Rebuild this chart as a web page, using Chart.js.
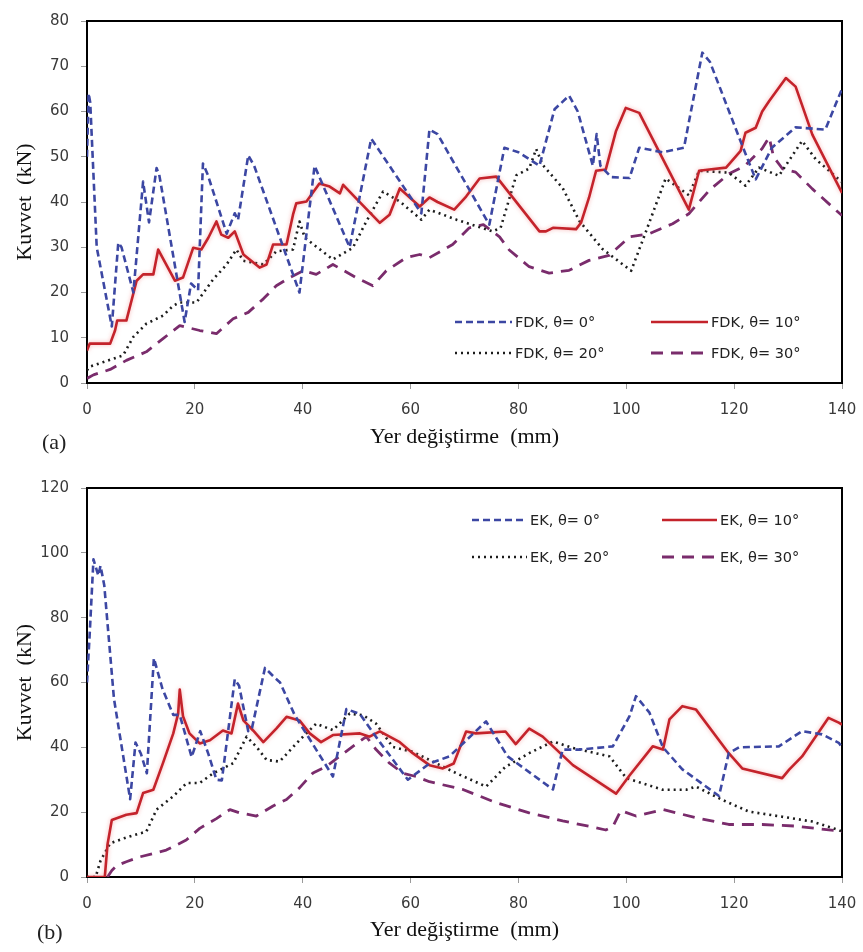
<!DOCTYPE html>
<html lang="tr">
<head>
<meta charset="utf-8">
<title>Kuvvet – Yer değiştirme</title>
<script src="https://cdn.jsdelivr.net/npm/chart.js@4.4.1/dist/chart.umd.min.js"></script>
<style>
  html, body { margin: 0; padding: 0; background: #ffffff; }
  body { width: 863px; height: 952px; position: relative; overflow: hidden; }
  .panel { position: absolute; left: 0; }
  .tag { position: absolute; font-family: "Liberation Serif", "Times New Roman", serif; font-size: 22px; color: #222; line-height: 1; }
</style>
</head>
<body>
<div class="panel" style="top:0px;"><canvas id="chartA" width="863" height="450"></canvas></div>
<div class="panel" style="top:460px;"><canvas id="chartB" width="863" height="483"></canvas></div>
<div class="tag" style="left:42px; top:431px;">(a)</div>
<div class="tag" style="left:37px; top:921px;">(b)</div>

<script>
// ---- Axis ticks ----
const xTicks = [0, 20, 40, 60, 80, 100, 120, 140];
const yTicksA = [0, 10, 20, 30, 40, 50, 60, 70, 80];
const yTicksB = [0, 20, 40, 60, 80, 100, 120];

// ---- Panel (a): FDK ----
const fdk0X = [0, 0.3, 0.6, 1.8, 4.6, 5.8, 6.4, 8.6, 10.4, 11.5, 12.9, 13.4, 18.1, 19.3, 20.6, 21.5, 22.4, 25.9, 27.4, 28.0, 29.9, 31.0, 39.4, 42.2, 48.7, 52.7, 62.0, 63.5, 65.0, 74.6, 77.4, 80.0, 83.9, 86.7, 89.4, 91.0, 93.8, 94.5, 95.2, 97.2, 100.6, 102.4, 106.7, 110.7, 111.5, 114.1, 115.5, 121.5, 124.0, 127.0, 131.4, 136.9, 140];
const fdk0Y = [50, 64, 62, 30, 12.5, 31, 30, 20, 44.5, 35.5, 47.5, 46, 13.5, 22, 20.5, 48.5, 46, 33, 37.5, 36, 50.3, 48, 20, 48, 30, 54, 37.5, 56, 55, 35, 52, 51, 48, 60.5, 63.5, 60, 48, 55, 48, 45.5, 45.3, 52, 51, 52, 57, 73, 71, 52.5, 45, 52, 56.5, 56, 65];

const fdk10X = [0, 0.5, 4.3, 5.2, 5.6, 7.3, 9.2, 10.4, 12.3, 13.2, 16.3, 17.8, 19.7, 21.2, 22.5, 24.0, 24.9, 26.2, 27.4, 29.0, 32.0, 33.3, 34.5, 37.0, 38.2, 38.8, 40.7, 43.1, 45.0, 46.9, 47.5, 49.9, 54.3, 56.1, 58.0, 61.7, 63.5, 65.0, 68.1, 70.3, 72.8, 75.9, 83.9, 85.1, 86.4, 90.7, 91.6, 93.1, 94.4, 96.2, 98.1, 99.9, 102.4, 111.6, 113.5, 115.4, 118.5, 121.2, 122.1, 124.0, 125.2, 126.5, 129.6, 131.4, 134.5, 140];
const fdk10Y = [7.2, 8.7, 8.7, 11.6, 13.8, 13.8, 22.6, 24, 24, 29.5, 22.6, 23.3, 29.9, 29.5, 32.1, 35.7, 32.8, 32.1, 33.5, 28.4, 25.5, 26.2, 30.6, 30.6, 37.2, 39.7, 40.1, 44.1, 43.4, 41.9, 43.8, 40.8, 35.4, 37.2, 43, 39, 41, 40, 38.3, 41.2, 45.2, 45.6, 33.5, 33.5, 34.3, 34, 35.4, 41, 46.9, 47.2, 55.7, 60.8, 59.7, 38.3, 46.9, 47.2, 47.6, 51.3, 55.3, 56.4, 60, 62.3, 67.4, 65.5, 54.9, 42];

const fdk20X = [0, 0.5, 6.7, 8.6, 11.0, 14.1, 16.0, 17.2, 20.3, 23.4, 25.9, 27.7, 29.0, 32.7, 35.1, 38.2, 39.4, 40.4, 45.6, 49.3, 51.8, 54.9, 58.0, 62.0, 63.5, 68.5, 75.2, 76.7, 79.6, 82.0, 83.3, 84.5, 88.2, 91.3, 95.6, 100.9, 103.0, 107.3, 111.6, 113.5, 119.0, 122.1, 124.6, 128.3, 132.6, 135.1, 140];
const fdk20Y = [2.8, 3.6, 6.1, 10.2, 13.1, 14.9, 17.1, 17.8, 17.8, 22.9, 26.2, 29.5, 27, 26.2, 29.1, 29.5, 35.7, 32.1, 27.3, 29.9, 35.7, 42.3, 40.1, 36.1, 38.3, 36.1, 33.5, 34.3, 45.9, 47.4, 51.7, 48.2, 43.1, 35.8, 29.6, 24.8, 31.4, 45.2, 41.5, 46.9, 46.5, 43.6, 47.6, 45.8, 53.5, 49.5, 44.4];

const fdk30X = [0, 1.2, 4.3, 7.3, 11.0, 14.1, 17.2, 20.9, 24.0, 27.1, 29.9, 32.7, 35.1, 37.6, 40.1, 42.5, 45.6, 49.9, 53.0, 55.5, 59.2, 61.7, 63.5, 67.8, 70.9, 73.5, 76.5, 78.3, 82.0, 85.7, 89.4, 93.1, 96.8, 100.6, 104.3, 108.6, 111.6, 115.4, 119.0, 122.0, 125.2, 126.5, 127.3, 129.0, 131.4, 134.5, 140];
const fdk30Y = [1, 1.8, 3, 5, 6.9, 9.8, 12.7, 11.6, 10.9, 14.2, 15.6, 18.6, 21.5, 23.3, 24.8, 24, 26.2, 23.3, 21.5, 24.8, 27.7, 28.4, 27.7, 30.6, 34.3, 35, 32.3, 29.4, 25.7, 24.3, 24.9, 27.1, 28.2, 32.3, 33, 35.2, 37.4, 42.6, 46.2, 48, 51.8, 54.3, 50, 47.3, 46.6, 42.9, 37];

// ---- Panel (b): EK ----
const ek0X = [0, 0.5, 1.2, 2.1, 2.5, 3.2, 5.0, 8.0, 9.0, 10.0, 11.1, 12.4, 14.0, 16.0, 17.2, 19.4, 21.0, 22.5, 24.0, 25.0, 27.4, 28.2, 29.9, 30.6, 33.0, 34.8, 35.8, 38.5, 45.6, 48.1, 50.6, 54.3, 59.5, 63.5, 67.2, 74.0, 78.0, 86.4, 88.2, 91.3, 97.5, 100.6, 101.8, 104.3, 106.8, 110.4, 117.2, 119.0, 120.9, 128.3, 132.6, 136.3, 139.4, 140];
const ek0Y = [60, 75, 98, 93, 96, 90, 55, 24, 41.5, 38, 32, 67.5, 58, 50, 50, 37, 45, 38, 30, 29.8, 61, 59, 45, 46, 64.5, 61.5, 60, 50, 31, 51.8, 50.3, 41.6, 30, 35, 37.2, 48, 37.2, 27, 39.3, 39.3, 40.3, 49.6, 55.8, 50.7, 40, 33.2, 25, 38.2, 40, 40.3, 45, 44, 41.4, 40];

const ek10X = [0, 3.3, 3.8, 4.6, 7.3, 9.2, 10.4, 12.3, 14.1, 16.0, 16.9, 17.2, 17.8, 19.0, 20.9, 22.8, 25.2, 26.8, 28.0, 29.0, 30.8, 32.7, 35.1, 37.0, 39.4, 41.3, 43.4, 45.6, 50.6, 52.4, 54.3, 58.0, 60.4, 63.5, 66.0, 68.0, 70.3, 72.1, 77.6, 79.5, 82.0, 84.5, 90.1, 98.1, 100.6, 104.9, 106.8, 108.0, 110.4, 112.9, 119.0, 121.5, 128.9, 130.2, 132.6, 137.5, 139.4, 140];
const ek10Y = [0, 0, 10, 17.6, 19.2, 19.7, 25.9, 26.9, 35.2, 44.3, 50.4, 57.8, 49.6, 44.3, 41.2, 42.2, 45.2, 44.3, 53.5, 48.3, 45.2, 41.6, 45.8, 49.4, 48.3, 44.3, 41.6, 43.8, 44.3, 43.3, 44.9, 41.6, 38.2, 34.5, 33.5, 35, 44.9, 44.3, 44.9, 41, 45.8, 43.3, 34.5, 25.7, 31.3, 40.3, 39.3, 48.6, 52.7, 51.7, 38.2, 33.5, 30.5, 33.1, 37.2, 49.1, 47.6, 47];

const ek20X = [0, 1.6, 2.5, 3.5, 4.3, 7.3, 11.0, 12.9, 16.0, 18.5, 20.9, 23.4, 27.1, 29.6, 31.5, 33.3, 35.7, 39.4, 42.5, 45.6, 48.7, 51.2, 53.6, 56.7, 60.4, 63.5, 68.5, 74.0, 77.6, 82.0, 86.4, 90.1, 96.9, 100.0, 106.8, 111.1, 112.9, 117.8, 122.7, 128.9, 134.5, 139.4, 140];
const ek20Y = [0, 0, 5, 8, 10.4, 12.2, 14, 20.8, 24.9, 29, 29, 32, 35.1, 43.3, 40, 36.1, 35.6, 42.2, 47.3, 45.3, 50.4, 49.9, 47.3, 40.1, 38.6, 36.1, 32, 27.9, 34, 38.2, 41.8, 39.8, 37.2, 30.5, 26.9, 26.9, 27.9, 23.8, 20.2, 18.6, 17.1, 14.5, 14];

const ek30X = [3.8, 4.6, 5.5, 7.3, 9.8, 14.7, 18.4, 20.9, 24.0, 26.5, 28.3, 31.4, 34.5, 37.0, 39.4, 41.9, 44.4, 46.8, 49.3, 51.8, 53.6, 56.1, 58.6, 61.0, 63.5, 69.7, 75.9, 82.0, 88.2, 94.4, 96.2, 97.5, 99.0, 101.8, 106.8, 112.9, 119.0, 125.2, 131.4, 139.4, 140];
const ek30Y = [0, 2, 3.5, 4.7, 6.2, 8.3, 11.4, 15, 18, 20.8, 19.8, 18.8, 21.9, 23.9, 27.5, 32.1, 34.1, 37.2, 40.3, 43.3, 39.3, 35.1, 32, 31, 29.4, 27, 22.9, 19.8, 17.3, 15.2, 14.5, 15.5, 20.5, 18.8, 20.8, 18.3, 16.2, 16.2, 15.7, 14.2, 14];

// ---- Series labels ----
const labelsA = ['FDK, θ= 0°', 'FDK, θ= 10°', 'FDK, θ= 20°', 'FDK, θ= 30°'];
const labelsB = ['EK, θ= 0°', 'EK, θ= 10°', 'EK, θ= 20°', 'EK, θ= 30°'];

// ---- Styles ----
const seriesStyle = [
  { borderColor: '#3c47a3', borderWidth: 2.6, borderDash: [7, 4] },
  { borderColor: '#c4232b', borderWidth: 2.6, borderDash: [] },
  { borderColor: '#1c1c1c', borderWidth: 2.6, borderDash: [2, 4] },
  { borderColor: '#7a2c6c', borderWidth: 2.8, borderDash: [12, 8] }
];

const zip = (xs, ys) => xs.map((x, i) => ({ x: x, y: ys[i] }));

function makeDatasets(labels, pairs) {
  return pairs.map((p, i) => Object.assign({
    label: labels[i],
    data: zip(p[0], p[1]),
    pointRadius: 0,
    tension: 0,
    fill: false,
    borderCapStyle: 'butt',
    borderJoinStyle: 'round'
  }, seriesStyle[i]));
}

// Black frame around the plotting area
const framePlugin = {
  id: 'frame',
  beforeDatasetsDraw(chart) {
    const { ctx, chartArea: a } = chart;
    ctx.save();
    ctx.strokeStyle = '#000';
    ctx.lineWidth = 2;
    ctx.strokeRect(a.left, a.top, a.right - a.left, a.bottom - a.top);
    ctx.restore();
  }
};

// Soft pink halo around the solid red curve
const haloPlugin = {
  id: 'halo',
  beforeDatasetDraw(chart, args) {
    if (args.index !== 1) return;
    chart.ctx.save();
    chart.ctx.shadowColor = 'rgba(240,120,120,0.55)';
    chart.ctx.shadowBlur = 4;
  },
  afterDatasetDraw(chart, args) {
    if (args.index !== 1) return;
    chart.ctx.restore();
  }
};

// Two-column legend drawn inside the plot
const legendPlugin = {
  id: 'inLegend',
  afterDraw(chart, args, opts) {
    const { ctx } = chart;
    ctx.save();
    ctx.font = '14.5px "DejaVu Sans", Verdana, sans-serif';
    ctx.textBaseline = 'middle';
    ctx.textAlign = 'left';
    opts.items.forEach(it => {
      const ds = chart.data.datasets[it.i];
      ctx.strokeStyle = ds.borderColor;
      ctx.lineWidth = ds.borderWidth;
      ctx.setLineDash(ds.borderDash || []);
      ctx.beginPath();
      ctx.moveTo(it.x0, it.y);
      ctx.lineTo(it.x1, it.y);
      ctx.stroke();
      ctx.setLineDash([]);
      ctx.fillStyle = '#222';
      ctx.fillText(ds.label, it.x1 + 3, it.y + 1);
    });
    ctx.restore();
  }
};

function makeOptions(yMax, yTicks, padTop, xHeight, legendItems) {
  const tickFont = { family: '"DejaVu Sans", Verdana, sans-serif', size: 15 };
  const titleFont = { family: '"Liberation Serif", "Times New Roman", serif', size: 22 };
  return {
    responsive: false,
    animation: false,
    devicePixelRatio: 1,
    layout: { padding: { top: padTop, right: 21, bottom: 0, left: 0 } },
    plugins: {
      legend: { display: false },
      tooltip: { enabled: false },
      inLegend: { items: legendItems }
    },
    scales: {
      x: {
        type: 'linear',
        min: 0, max: 140,
        afterBuildTicks: s => { s.ticks = xTicks.map(v => ({ value: v })); },
        afterFit: s => { s.height = xHeight; s.paddingLeft = 0; s.paddingRight = 0; },
        ticks: { font: tickFont, color: '#3a3a3a', padding: 12, maxRotation: 0 },
        grid: { drawOnChartArea: false, drawTicks: true, tickLength: 6, color: '#9a9a9a' },
        border: { display: false },
        title: { display: true, text: 'Yer değiştirme  (mm)', font: titleFont, color: '#111', padding: { top: 0, bottom: 0 } }
      },
      y: {
        type: 'linear',
        min: 0, max: yMax,
        afterBuildTicks: s => { s.ticks = yTicks.map(v => ({ value: v })); },
        afterFit: s => { s.width = 87; },
        ticks: { font: tickFont, color: '#3a3a3a', padding: 12 },
        grid: { drawOnChartArea: false, drawTicks: true, tickLength: 6, color: '#9a9a9a' },
        border: { display: false },
        title: { display: true, text: 'Kuvvet  (kN)', font: titleFont, color: '#111', padding: { top: 12, bottom: 0 } }
      }
    }
  };
}

new Chart(document.getElementById('chartA'), {
  type: 'line',
  data: {
    datasets: makeDatasets(labelsA, [[fdk0X, fdk0Y], [fdk10X, fdk10Y], [fdk20X, fdk20Y], [fdk30X, fdk30Y]])
  },
  options: makeOptions(80, yTicksA, 18, 67, [
    { i: 0, x0: 455, x1: 512, y: 322 },
    { i: 1, x0: 651, x1: 708, y: 322 },
    { i: 2, x0: 455, x1: 512, y: 353 },
    { i: 3, x0: 651, x1: 708, y: 353 }
  ]),
  plugins: [framePlugin, haloPlugin, legendPlugin]
});

new Chart(document.getElementById('chartB'), {
  type: 'line',
  data: {
    datasets: makeDatasets(labelsB, [[ek0X, ek0Y], [ek10X, ek10Y], [ek20X, ek20Y], [ek30X, ek30Y]])
  },
  options: makeOptions(120, yTicksB, 28, 66, [
    { i: 0, x0: 472, x1: 527, y: 60 },
    { i: 1, x0: 662, x1: 717, y: 60 },
    { i: 2, x0: 472, x1: 527, y: 97 },
    { i: 3, x0: 662, x1: 717, y: 97 }
  ]),
  plugins: [framePlugin, haloPlugin, legendPlugin]
});
</script>
</body>
</html>
